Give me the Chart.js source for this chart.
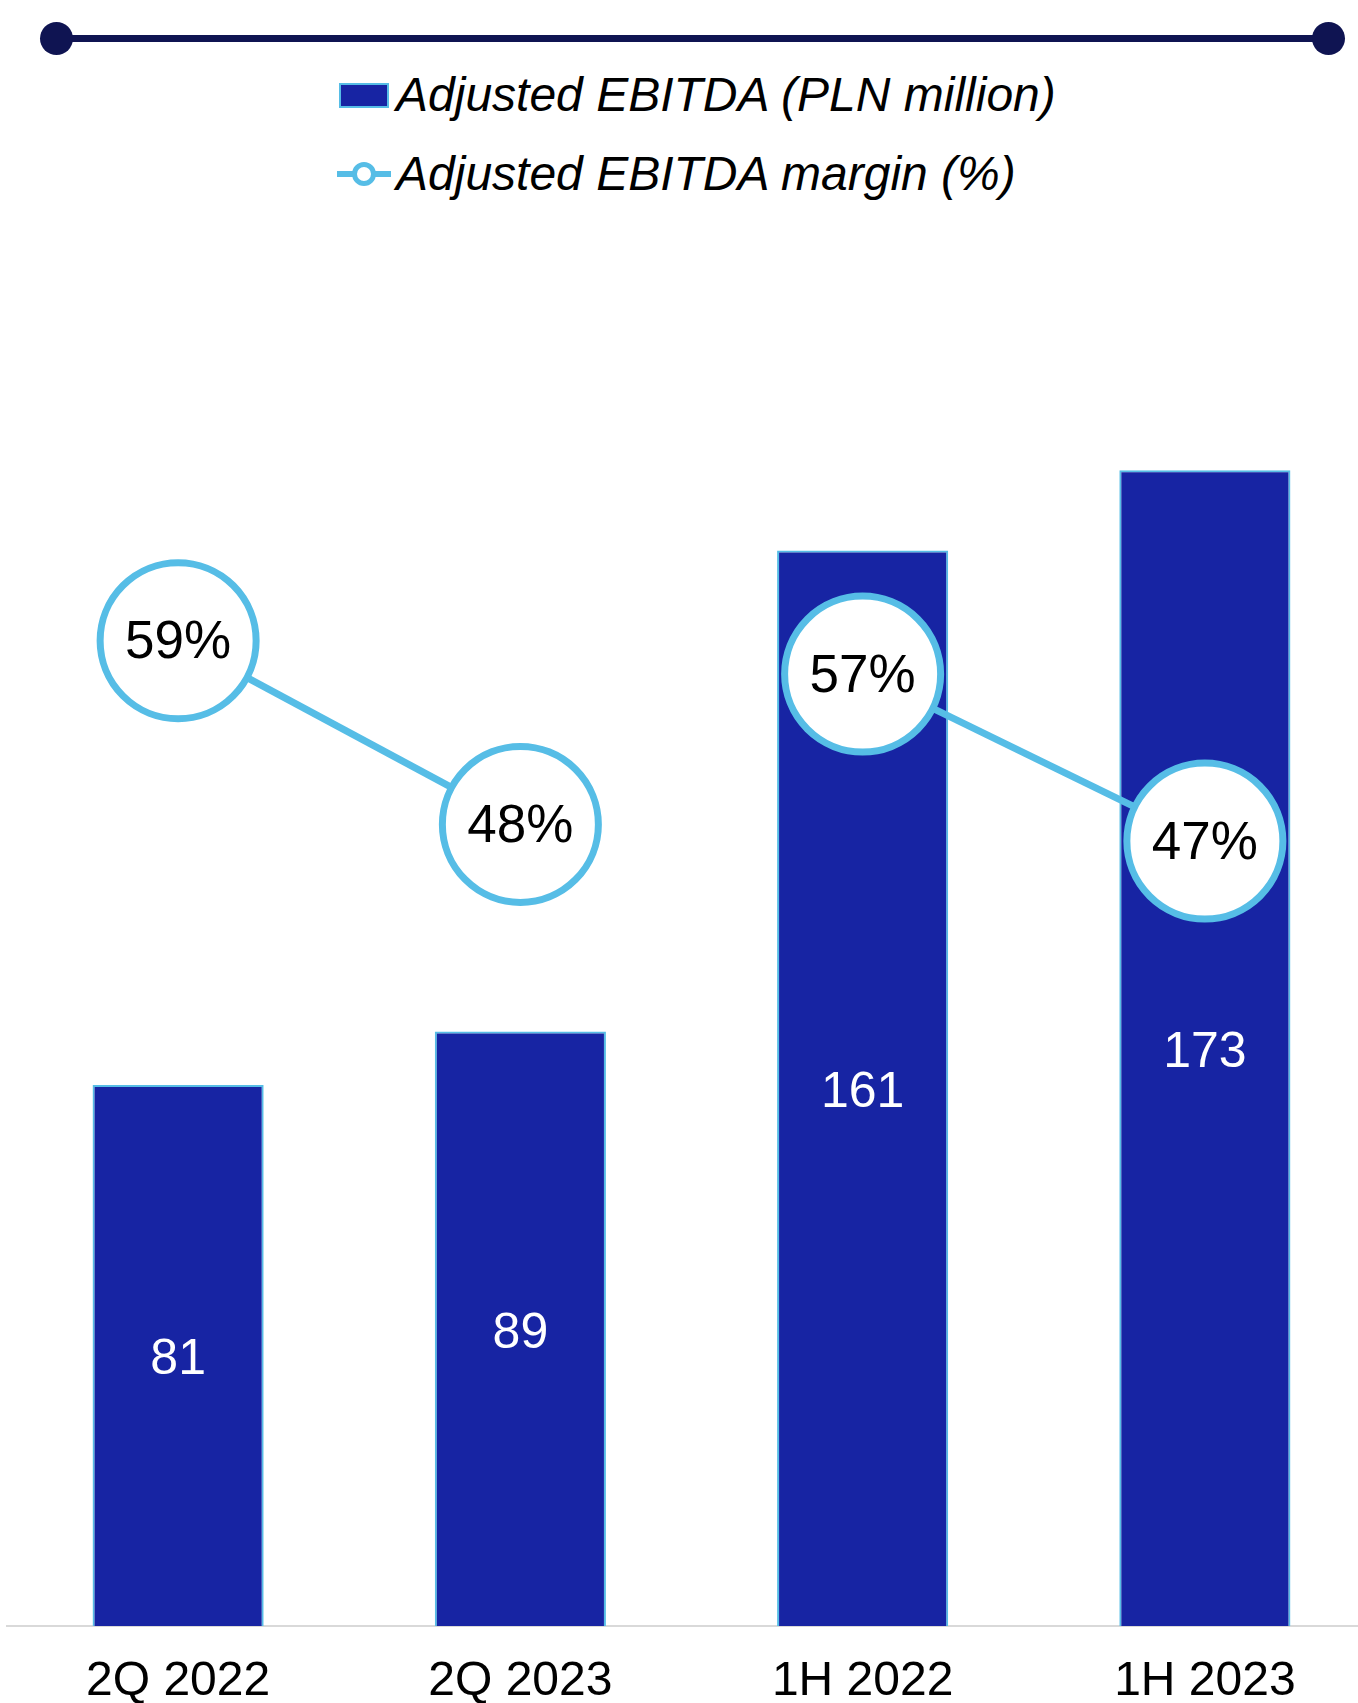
<!DOCTYPE html>
<html>
<head>
<meta charset="utf-8">
<script src="https://cdn.jsdelivr.net/npm/chart.js@4.4.0/dist/chart.umd.min.js"></script>
<style>
  html, body { margin: 0; padding: 0; background: #fff; overflow: hidden; width: 1358px; height: 1703px; }
  body { position: relative; font-family: "Liberation Sans", Arial, sans-serif; }
  #wrap { position: absolute; left: 0; top: 0; width: 1376px; height: 1703px; }
  .rule { position: absolute; left: 56px; top: 35px; width: 1272px; height: 7px; background: #0f1452; }
  .dot { position: absolute; top: 22px; width: 33px; height: 33px; border-radius: 50%; background: #0f1452; }
  .legend-row { position: absolute; left: 337px; height: 48px; line-height: 48px; font-size: 48px; font-style: italic; color: #000; white-space: nowrap; }
  .legend-row span { position: absolute; left: 59px; top: 0; }
  .sw-bar { position: absolute; left: 2px; top: 12px; width: 46px; height: 21px; background: #1724a3; border: 2px solid #56bde6; }
  .sw-line { position: absolute; left: 0; top: 21px; width: 54px; height: 6px; background: #56bde6; }
  .sw-ring { position: absolute; left: 15px; top: 12px; width: 14px; height: 14px; border-radius: 50%; background: #fff; border: 5px solid #56bde6; }
</style>
</head>
<body>
<div class="rule"></div>
<div class="dot" style="left:40px"></div>
<div class="dot" style="left:1312px"></div>
<div class="legend-row" style="top:71px"><div class="sw-bar"></div><span>Adjusted EBITDA (PLN million)</span></div>
<div class="legend-row" style="top:150px"><div class="sw-line"></div><div class="sw-ring"></div><span>Adjusted EBITDA margin (%)</span></div>
<div id="wrap"><canvas id="chart" width="1376" height="1703"></canvas></div>
<script>
// Periodos y valores
const categories = ['2Q 2022', '2Q 2023', '1H 2022', '1H 2023'];
const ebitda = [81, 89, 161, 173];   // PLN million
const margin = [59, 48, 57, 47];     // %

const barBlue = '#1724a3';
const lightBlue = '#56bde6';
const fontFamily = '"Liberation Sans", Arial, sans-serif';

// Etiquetas dentro de las barras y de los círculos
const valueLabels = {
    id: 'valueLabels',
    afterDatasetsDraw(chart) {
        const ctx = chart.ctx;
        ctx.save();
        ctx.textAlign = 'center';
        ctx.textBaseline = 'middle';
        ctx.font = '50px ' + fontFamily;
        chart.getDatasetMeta(0).data.forEach((bar, i) => {
            ctx.fillStyle = '#ffffff';
            ctx.fillText(String(ebitda[i]), bar.x, (bar.y + bar.base) / 2 + 5);
        });
        ctx.font = '53px ' + fontFamily;
        chart.getDatasetMeta(1).data.forEach((pt, i) => {
            ctx.fillStyle = '#000000';
            ctx.fillText(margin[i] + '%', pt.x, pt.y + 3);
        });
        ctx.restore();
    }
};

new Chart(document.getElementById('chart').getContext('2d'), {
    type: 'bar',
    data: {
        labels: categories,
        datasets: [
            {
                type: 'bar',
                label: 'Adjusted EBITDA (PLN million)',
                data: ebitda,
                yAxisID: 'y',
                backgroundColor: barBlue,
                borderColor: lightBlue,
                borderWidth: 2,
                categoryPercentage: 1,
                barPercentage: 0.5,
                order: 2
            },
            {
                type: 'line',
                label: 'Adjusted EBITDA margin (%)',
                data: margin,
                yAxisID: 'y2',
                borderColor: lightBlue,
                borderWidth: 7,
                pointRadius: 78,
                pointBorderWidth: 7,
                pointBackgroundColor: '#ffffff',
                pointBorderColor: lightBlue,
                // sin línea entre 2Q 2023 y 1H 2022
                segment: {
                    borderColor: c => c.p0DataIndex === 1 ? 'rgba(0,0,0,0)' : lightBlue
                },
                clip: false,
                order: 1
            }
        ]
    },
    options: {
        responsive: false,
        animation: false,
        devicePixelRatio: 1,
        layout: { autoPadding: false, padding: { top: 290, left: 7, right: 0, bottom: 0 } },
        plugins: {
            legend: { display: false },
            tooltip: { enabled: false }
        },
        scales: {
            x: {
                grid: { display: false, drawTicks: false },
                border: { display: true, color: '#d9d9d9', width: 2 },
                ticks: {
                    color: '#000000',
                    font: { family: fontFamily, size: 48 },
                    padding: 27
                },
                afterFit: s => { s.height = 77; }
            },
            y: { display: false, min: 0, max: 200 },
            y2: { display: false, min: 0, max: 80, position: 'right' }
        }
    },
    plugins: [valueLabels]
});
</script>
</body>
</html>
